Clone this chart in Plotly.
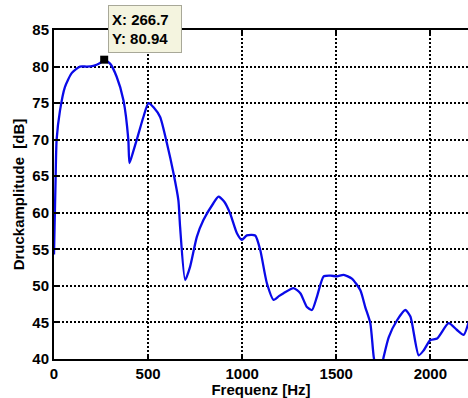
import plotly.graph_objects as go

# Frequency (Hz) and pressure amplitude (dB)
freq_hz = [0, 3, 8, 14, 32, 58, 94, 138, 174, 209, 245, 266.7, 298, 333, 369, 395, 401,
           420, 440, 475, 502, 530, 564, 600, 635, 661, 670, 697, 723, 759, 794, 847,
           874, 905, 936, 972, 998, 1025, 1069, 1096, 1131, 1167, 1195, 1220, 1273,
           1309, 1344, 1371, 1397, 1433, 1470, 1504, 1539, 1583, 1628, 1654, 1681,
           1699, 1725, 1752, 1779, 1823, 1867, 1894, 1938, 1965, 2000, 2036, 2097,
           2140, 2177, 2204]
amp_db = [54.3, 58, 64, 70, 74, 77.2, 79.1, 80, 80, 80.1, 80.5, 80.94, 80.4, 78.6, 75.4,
          70, 66.8, 68.3, 70, 73.1, 75, 74.4, 73.1, 69.5, 65.4, 61.7, 58.1, 50.8, 52.6,
          56.7, 59, 61.3, 62.2, 61.5, 59.9, 57.2, 56.3, 56.9, 56.9, 54.9, 50.4, 48.1,
          48.6, 49, 49.7, 49, 47.1, 46.7, 48.5, 51.3, 51.4, 51.3, 51.5, 51, 49.4, 47.1,
          44.9, 40.3, 37, 40.3, 43, 45.3, 46.7, 45.8, 40.5, 41.2, 42.6, 42.8, 44.9,
          44, 43.3, 45.1]

# Data tip
tip_x = [266.7]
tip_y = [80.94]

x_ticks = [0, 500, 1000, 1500, 2000]
y_ticks = [40, 45, 50, 55, 60, 65, 70, 75, 80, 85]

FONT = "Liberation Sans, Arial, sans-serif"

fig = go.Figure()
fig.add_trace(go.Scatter(x=freq_hz, y=amp_db, mode="lines", line_shape="spline",
                         line=dict(color="#0A0AE8", width=2.3, smoothing=0.6),
                         showlegend=False))
fig.add_trace(go.Scatter(x=tip_x, y=tip_y, mode="markers",
                         marker=dict(symbol="square", color="black", size=8),
                         showlegend=False))

fig.add_annotation(
    x=tip_x[0], y=tip_y[0],
    text=f"<b>X: {tip_x[0]:.1f}<br>Y: {tip_y[0]:.2f}</b>",
    showarrow=True, arrowcolor="rgba(0,0,0,0)", arrowwidth=0.1, arrowhead=0,
    ax=41, ay=-31,
    font=dict(family=FONT, size=15, color="black"),
    bgcolor="#F4F4DF", bordercolor="#A8A898", borderwidth=1, borderpad=3,
    width=66, height=40, align="left",
)

axis_common = dict(
    showline=True, linecolor="black", linewidth=2,
    showgrid=True, gridcolor="black", gridwidth=1.5, griddash="2px,2px",
    ticks="inside", ticklen=4, tickwidth=2, tickcolor="black",
    zeroline=False, automargin=False,
    tickfont=dict(family=FONT, size=15, color="black"),
)

fig.update_xaxes(range=[0, 2200], tickvals=x_ticks,
                 ticktext=[f"<b>{v}</b>" for v in x_ticks], mirror="ticks",
                 title=dict(text="<b>Frequenz [Hz]</b>", standoff=0,
                            font=dict(family=FONT, size=15, color="black")),
                 **axis_common)
fig.update_yaxes(range=[40, 85], tickvals=y_ticks,
                 ticktext=[f"<b>{v}</b>" for v in y_ticks], mirror=False,
                 title=dict(text="<b>Druckamplitude  [dB]</b>", standoff=4,
                            font=dict(family=FONT, size=15, color="black")),
                 **axis_common)

fig.update_layout(
    width=468, height=398,
    margin=dict(l=54, r=0, t=30, b=39),
    paper_bgcolor="white", plot_bgcolor="white",
)

fig.write_html(
    "out.html",
    config={"displayModeBar": False},
    post_script="document.body.style.margin='0';document.body.style.overflow='hidden';",
)
